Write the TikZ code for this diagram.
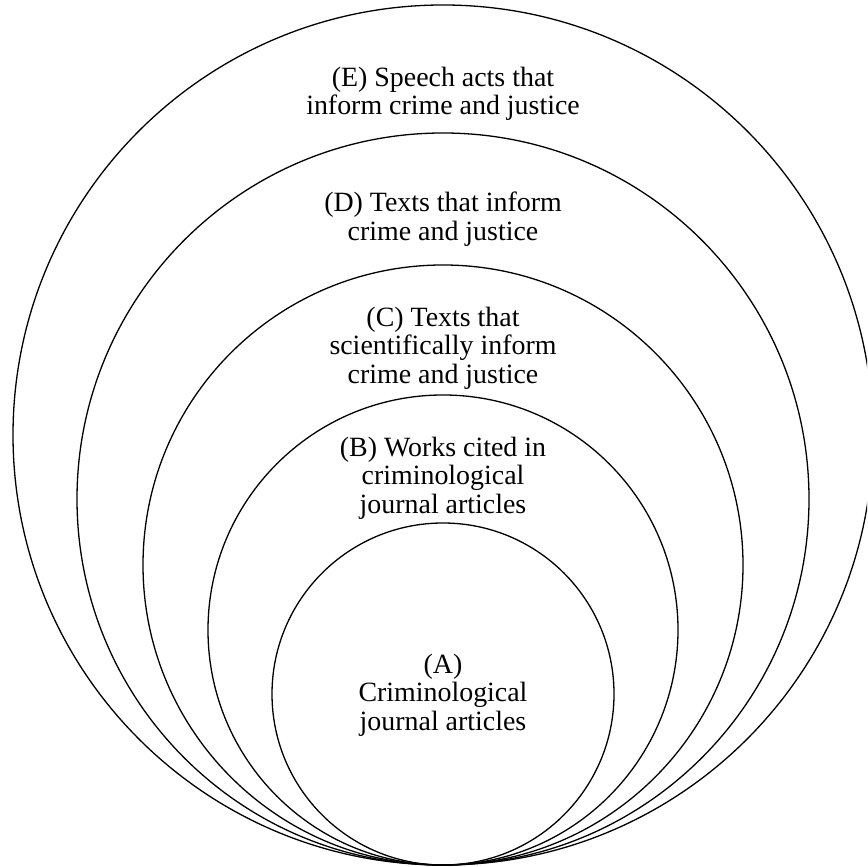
\documentclass[tikz,border=0pt]{standalone}
\usepackage{fontspec}
\setmainfont{Liberation Serif}
\usepackage{tikz}
\usetikzlibrary{positioning}

\tikzset{
  ring/.style={draw=black, line width=1.3pt},
  ringtext/.style={align=center, inner sep=0pt, font=\fontsize{27.9}{28.6}\selectfont}
}

\begin{document}
\begin{tikzpicture}[x=1pt, y=1pt]
            \useasboundingbox (0,0) rectangle (867,867);
            \clip (0,0) rectangle (867,867);
            % nested rings, all touching at the bottom
            \foreach \r in {430,366,300,235,171}
                \draw[ring] (443,2+\r) circle (\r);
            
            \node[ringtext] (labelE) at (443,773) {(E) Speech acts that\\inform crime and justice};
            \node[ringtext] (labelD) at (443,648) {(D) Texts that inform\\crime and justice};
            \node[ringtext] (labelC) at (443,519) {(C) Texts that\\scientifically inform\\crime and justice};
            \node[ringtext] (labelB) at (443,389) {(B) Works cited in\\criminological\\journal articles};
            \node[ringtext] (labelA) at (443,172) {(A)\\Criminological\\journal articles};
        \end{tikzpicture}
\end{document}
